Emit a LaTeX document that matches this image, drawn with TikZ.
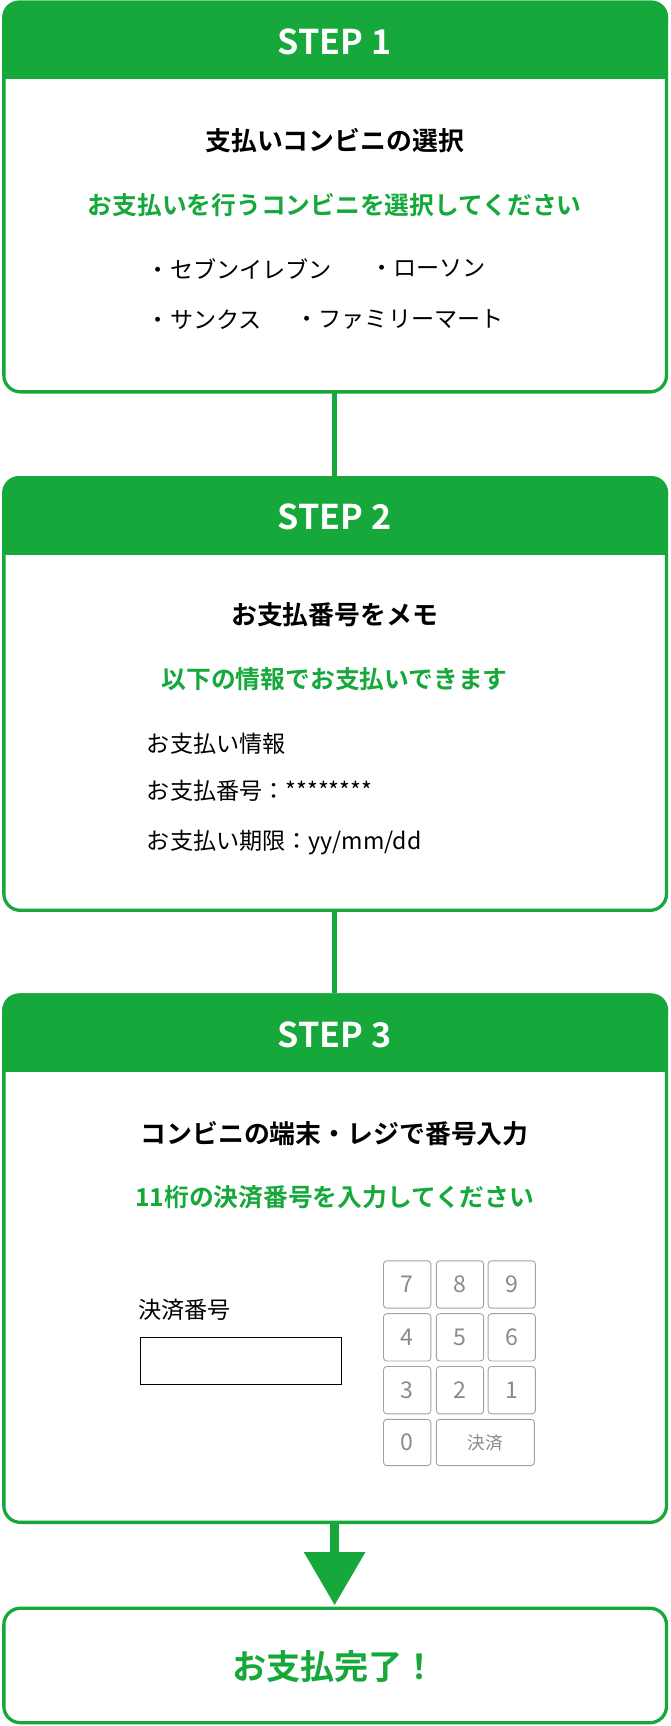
\documentclass[tikz,border=0pt]{standalone}
\usepackage{fontspec}
\setmainfont{Noto Sans CJK JP}
\newfontfamily\jpb{Noto Sans CJK JP Bold}
\definecolor{g}{HTML}{16A83A}
\definecolor{kg}{HTML}{8A8A8A}
\begin{document}
\begin{tikzpicture}[x=1pt,y=-1pt,
 boxs/.style={draw=g,line width=3pt,rounded corners=15pt,fill=white},
 hdr/.style={fill=g,rounded corners=15pt},
 hdt/.style={text=white,font=\jpb\fontsize{31}{34}\selectfont},
 ttl/.style={font=\jpb\fontsize{23.5}{28}\selectfont},
 grn/.style={text=g,font=\jpb\fontsize{22.5}{27}\selectfont},
 txt/.style={font=\fontsize{21}{25}\selectfont,anchor=west},
 key/.style={draw=kg!80,line width=0.8pt,rounded corners=3pt,text=kg,font=\fontsize{21}{24}\selectfont,inner sep=0pt},
 con/.style={draw=g,line width=4pt}]
\useasboundingbox (0,0) rectangle (609,1568);
% connectors
\coordinate (c1a) at (304,357); \coordinate (c1b) at (304,432);
\coordinate (c2a) at (304,828); \coordinate (c2b) at (304,902);
\draw[con] (c1a)--(c1b); \draw[con] (c2a)--(c2b);
\fill[g] (300,1384) rectangle (308,1412);
\fill[g] (276,1410)--(332,1410)--(304,1458)--cycle;
% boxes
\foreach \t/\b/\n in {2/356/1,434/827/2,904/1383/3}{
 \fill[hdr] (2,\t-1.5) rectangle (607,\t+30);
 \fill[g] (2,\t+20) rectangle (607,\t+70);
 \draw[boxs,fill=none] (3.5,\t) rectangle (605.5,\b);
}
\node[hdt] (h1) at (304,38) {STEP 1};
\node[hdt] (h2) at (304,470) {STEP 2};
\node[hdt] (h3) at (304,940) {STEP 3};
% box1
\node[ttl] (t1) at (304,128) {支払いコンビニの選択};
\node[grn] (g1) at (304,186) {お支払いを行うコンビニを選択してください};
\node[txt] (i1) at (130,244) {・セブンイレブン};
\node[txt] (i2) at (333,244) {・ローソン};
\node[txt] (i3) at (130,290) {・サンクス};
\node[txt] (i4) at (265,290) {・ファミリーマート};
% box2
\node[ttl] (t2) at (304,558) {お支払番号をメモ};
\node[grn] (g2) at (304,617) {以下の情報でお支払いできます};
\node[txt] (l1) at (130,676) {お支払い情報};
\node[txt] (l2) at (130,718) {お支払番号：********};
\node[txt] (l3) at (130,765) {お支払い期限：yy/mm/dd};
% box3
\node[ttl] (t3) at (304,1030) {コンビニの端末・レジで番号入力};
\node[grn] (g3) at (304,1088) {11桁の決済番号を入力してください};
\node[txt] (lb) at (122,1190) {決済番号};
\draw[line width=1pt] (128,1215) rectangle (310,1258);
\foreach \r/\y in {0/1145,1/1193,2/1241}{
 \foreach \c/\x in {0/348,1/396,2/443}{
  \pgfmathtruncatemacro{\num}{\r==0 ? 7+\c : (\r==1 ? 4+\c : 3-\c)}
  \node[key,minimum width=43pt,minimum height=43pt,anchor=north west] (k\r\c) at (\x,\y) {\num};
 }}
\node[key,minimum width=43pt,minimum height=42pt,anchor=north west] (k0) at (348,1289) {0};
\node[key,minimum width=89pt,minimum height=42pt,anchor=north west,font=\fontsize{16}{20}\selectfont] (kk) at (396,1289) {決済};
% box4
\draw[boxs] (3.5,1461) rectangle (605.5,1565);
\node[text=g,font=\jpb\fontsize{31}{36}\selectfont] (fin) at (304,1514) {お支払完了！};
\end{tikzpicture}
\end{document}
